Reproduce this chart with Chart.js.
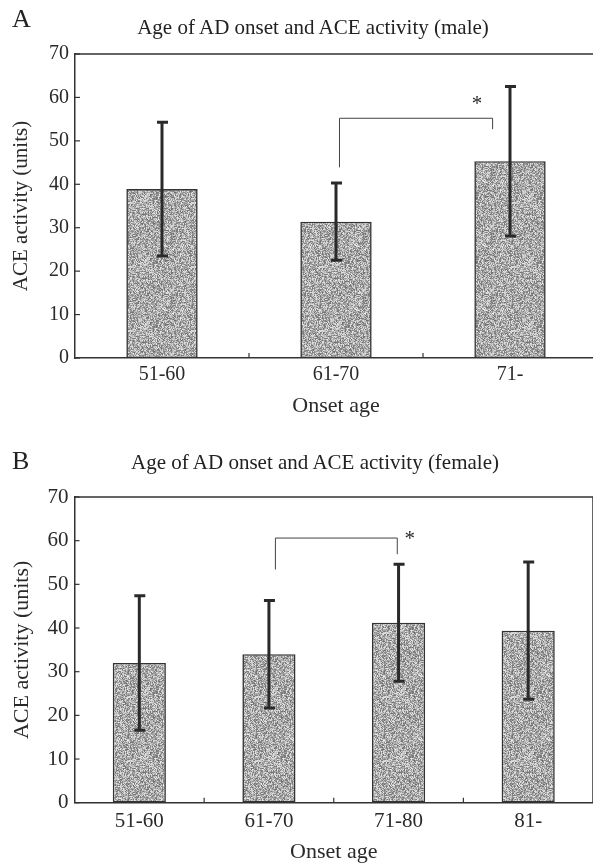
<!DOCTYPE html>
<html>
<head>
<meta charset="utf-8">
<script src="https://cdn.jsdelivr.net/npm/chart.js@4/dist/chart.umd.min.js"></script>
<style>
html,body{margin:0;padding:0;overflow:hidden;background:#fff;width:593px;height:865px}
#wrap{position:relative;width:593px;height:865px;overflow:hidden;background:#fff}
.pane{position:absolute;left:0;width:600px}
canvas{display:block}
.txt{position:absolute;font-family:"Liberation Serif","Times New Roman",serif;color:#222;white-space:nowrap;line-height:1}
</style>
</head>
<body>
<div id="wrap">
  <div class="pane" style="top:0;height:430px"><canvas id="cA" width="600" height="430"></canvas></div>
  <div class="pane" style="top:430px;height:435px"><canvas id="cB" width="600" height="435"></canvas></div>
  <div class="txt" style="left:12px;top:6px;font-size:26px">A</div>
  <div class="txt" style="left:313px;top:17px;font-size:21px;transform:translateX(-50%)">Age of AD onset and ACE activity (male)</div>
  <div class="txt" style="left:12px;top:448px;font-size:26px">B</div>
  <div class="txt" style="left:315px;top:452px;font-size:21px;transform:translateX(-50%)">Age of AD onset and ACE activity (female)</div>
</div>
<script>
// ---- data ----
const categoriesA = ['51-60', '61-70', '71-'];
const meansA = [38.9, 31.4, 45.3];
const sdA = [15.4, 8.9, 17.2];

const categoriesB = ['51-60', '61-70', '71-80', '81-'];
const meansB = [32.0, 34.0, 41.2, 39.4];
const sdB = [15.4, 12.3, 13.4, 15.7];

const yMin = 0, yMax = 70, yStep = 10;
const yTitle = 'ACE activity (units)';
const xTitle = 'Onset age';

// significance bracket: [fromIndex, toIndex, lineValue, leftLegEnd, rightLegEnd]
const bracketA = [1.02, 1.90, 55.2, 43.9, 52.7];
const starA = [1.81, 59.4];
const bracketB = [1.05, 1.99, 60.6, 53.4, 56.9];
const starB = [2.086, 61.3];

// ---- styling helpers ----
const SERIF = '"Liberation Serif","Times New Roman",serif';
const INK = '#2a2a2a';

function makePattern() {
  const n = 64;
  const c = document.createElement('canvas');
  c.width = n; c.height = n;
  const g = c.getContext('2d');
  const img = g.createImageData(n, n);
  for (let i = 0; i < n * n; i++) {
    let h = Math.imul(i + 12345, 2654435761) >>> 0;
    h ^= h >>> 13;
    h = Math.imul(h, 1274126177) >>> 0;
    h ^= h >>> 16;
    const v = 172 + (h % 62);
    img.data[i * 4] = v; img.data[i * 4 + 1] = v; img.data[i * 4 + 2] = v; img.data[i * 4 + 3] = 255;
  }
  g.putImageData(img, 0, 0);
  return g.createPattern(c, 'repeat');
}

function overlayPlugin(sd, bracket, star) {
  return {
    id: 'overlay',
    afterDatasetsDraw(chart) {
      const ctx = chart.ctx;
      const xs = chart.scales.x, ys = chart.scales.y;
      const area = chart.chartArea;
      const means = chart.data.datasets[0].data;
      ctx.save();
      // error bars
      ctx.strokeStyle = INK;
      ctx.lineWidth = 3;
      ctx.lineCap = 'butt';
      means.forEach((m, i) => {
        const x = xs.getPixelForValue(i);
        const yt = ys.getPixelForValue(m + sd[i]);
        const yb = ys.getPixelForValue(m - sd[i]);
        ctx.beginPath();
        ctx.moveTo(x, yt); ctx.lineTo(x, yb);
        ctx.moveTo(x - 5, yt); ctx.lineTo(x + 6, yt);
        ctx.moveTo(x - 5, yb); ctx.lineTo(x + 6, yb);
        ctx.stroke();
      });
      // bracket
      ctx.lineWidth = 1;
      ctx.strokeStyle = '#444';
      const x1 = xs.getPixelForValue(bracket[0]);
      const x2 = xs.getPixelForValue(bracket[1]);
      const yl = ys.getPixelForValue(bracket[2]);
      ctx.beginPath();
      ctx.moveTo(x1, ys.getPixelForValue(bracket[3]));
      ctx.lineTo(x1, yl);
      ctx.lineTo(x2, yl);
      ctx.lineTo(x2, ys.getPixelForValue(bracket[4]));
      ctx.stroke();
      // star
      ctx.fillStyle = INK;
      ctx.font = '21px ' + SERIF;
      ctx.textAlign = 'center';
      ctx.textBaseline = 'alphabetic';
      ctx.fillText('*', xs.getPixelForValue(star[0]), ys.getPixelForValue(star[1]) + 10);
      // frame top & right
      ctx.strokeStyle = '#333';
      ctx.lineWidth = 1.5;
      ctx.beginPath();
      ctx.moveTo(area.left, area.top);
      ctx.lineTo(area.right, area.top);
      ctx.lineTo(area.right, area.bottom);
      ctx.stroke();
      // inner tick marks
      ctx.lineWidth = 1.2;
      ys.ticks.forEach(t => {
        const y = ys.getPixelForValue(t.value);
        ctx.beginPath(); ctx.moveTo(area.left, y); ctx.lineTo(area.left + 5, y); ctx.stroke();
      });
      for (let k = 0; k < means.length - 1; k++) {
        const x = xs.getPixelForValue(k + 0.5);
        ctx.beginPath(); ctx.moveTo(x, area.bottom); ctx.lineTo(x, area.bottom - 5); ctx.stroke();
      }
      ctx.restore();
    }
  };
}

function buildChart(id, cats, means, sd, bracket, star, g) {
  const pattern = makePattern();
  return new Chart(document.getElementById(id), {
    type: 'bar',
    data: {
      labels: cats,
      datasets: [{
        data: means,
        backgroundColor: pattern,
        borderColor: '#333',
        borderWidth: 1.6,
        borderSkipped: false,
        barPercentage: 0.41,
        categoryPercentage: 1.0
      }]
    },
    options: {
      responsive: false,
      animation: false,
      devicePixelRatio: 1,
      layout: { padding: { top: g.top, right: g.right, left: 0, bottom: 0 } },
      plugins: { legend: { display: false }, title: { display: false }, tooltip: { enabled: false } },
      scales: {
        x: {
          offset: true,
          grid: { display: false, drawTicks: false },
          border: { display: true, color: '#333', width: 1.5 },
          ticks: { color: INK, padding: g.xPad, font: { family: SERIF, size: g.tick, lineHeight: 1 } },
          title: { display: true, text: xTitle, color: INK, font: { family: SERIF, size: g.axTitle, lineHeight: 1.2 }, padding: { top: 0, bottom: g.xTitlePad } },
          afterFit(s) { s.height = g.xH; }
        },
        y: {
          min: yMin, max: yMax,
          ticks: { stepSize: yStep, color: INK, padding: 6, font: { family: SERIF, size: g.tick } },
          grid: { display: false, drawTicks: false },
          border: { display: true, color: '#333', width: 1.5 },
          title: { display: true, text: yTitle, color: INK, font: { family: SERIF, size: g.yTitle, lineHeight: 1.2 }, padding: { top: g.yTitlePad, bottom: 0 } },
          afterFit(s) { s.width = g.yW; }
        }
      }
    },
    plugins: [overlayPlugin(sd, bracket, star)]
  });
}

buildChart('cA', categoriesA, meansA, sdA, bracketA, starA,
  { top: 54, right: 3, yW: 75, xH: 72, tick: 20, xPad: 7, axTitle: 22, xTitlePad: 11, yTitle: 21, yTitlePad: 9 });
buildChart('cB', categoriesB, meansB, sdB, bracketB, starB,
  { top: 67, right: 7, yW: 74.5, xH: 62.3, tick: 21, xPad: 8, axTitle: 22, xTitlePad: 0, yTitle: 22, yTitlePad: 9 });
</script>
</body>
</html>
